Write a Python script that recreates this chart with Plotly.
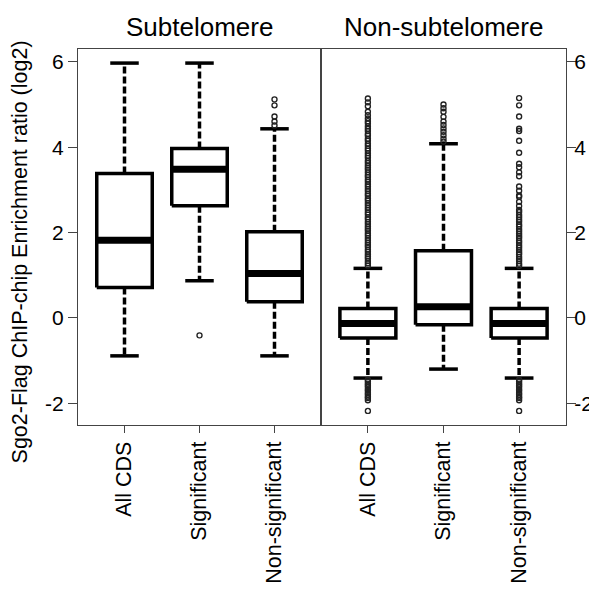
import plotly.graph_objects as go
from plotly.subplots import make_subplots

# ---------------- data ----------------
categories = ["All CDS", "Significant", "Non-significant"]
panel_titles = ["Subtelomere", "Non-subtelomere"]

sub_lower = [-0.89, 0.87, -0.89]
sub_q1 = [0.71, 2.63, 0.38]
sub_median = [1.82, 3.48, 1.04]
sub_q3 = [3.38, 3.97, 2.02]
sub_upper = [5.97, 5.97, 4.43]
sub_outliers = [
    [],
    [-0.41],
    [5.12, 4.98, 4.72, 4.60, 4.51],
]

non_lower = [-1.41, -1.20, -1.41]
non_q1 = [-0.47, -0.16, -0.47]
non_median = [-0.13, 0.26, -0.13]
non_q3 = [0.22, 1.57, 0.22]
non_upper = [1.16, 4.08, 1.16]
non_outliers = [
    [5.14, 5.05, 4.96, 4.83, 4.75, 4.67, 4.61, 4.56, 4.49, 4.43, 4.38, 4.31, 4.27,
     4.2, 4.15, 4.08, 4.03, 3.97, 3.92, 3.86, 3.8, 3.75, 3.68, 3.63, 3.57, 3.52,
     3.47, 3.41, 3.35, 3.3, 3.24, 3.19, 3.13, 3.08, 3.02, 2.97, 2.91, 2.86, 2.8,
     2.75, 2.69, 2.64, 2.58, 2.53, 2.47, 2.42, 2.36, 2.31, 2.25, 2.2, 2.14, 2.09,
     2.04, 1.98, 1.93, 1.87, 1.82, 1.76, 1.71, 1.66, 1.6, 1.55, 1.49, 1.44, 1.39,
     1.33, 1.28, 1.23,
     -1.45, -1.49, -1.54, -1.58, -1.62, -1.67, -1.71, -1.76, -1.8, -1.85, -1.88,
     -1.93, -2.18],
    [5.0, 4.91, 4.83, 4.71, 4.6, 4.52, 4.44, 4.36, 4.28, 4.2, 4.13],
    [5.15, 4.98, 4.72, 4.43, 4.38, 4.15, 3.87, 3.61, 3.53, 3.41, 3.32, 3.08, 2.98,
     2.87, 2.84, 2.72, 2.62, 2.53, 2.48, 2.41, 2.36, 2.3, 2.25, 2.19, 2.14, 2.08,
     2.03, 1.97, 1.92, 1.87, 1.81, 1.76, 1.7, 1.65, 1.59, 1.54, 1.49, 1.43, 1.38,
     1.33, 1.27, 1.22,
     -1.45, -1.49, -1.54, -1.58, -1.62, -1.67, -1.71, -1.76, -1.8, -1.85, -1.88,
     -1.93, -2.18],
]

y_ticks = [-2, 0, 2, 4, 6]
y_tick_labels = ["-2", "0", "2", "4", "6"]
y_title = "Sgo2-Flag ChIP-chip Enrichment ratio (log2)"

# ---------------- figure ----------------
FONT = "Liberation Sans, Arial, sans-serif"
BOX_HALF = 0.37
CAP_HALF = 0.19
LW = 3.5

fig = make_subplots(rows=1, cols=2, horizontal_spacing=0)

panels = [
    (sub_lower, sub_q1, sub_median, sub_q3, sub_upper, sub_outliers),
    (non_lower, non_q1, non_median, non_q3, non_upper, non_outliers),
]

for col, (lo, q1, med, q3, up, outs) in enumerate(panels, start=1):
    bx, by, mx, my, wx, wy, cx, cy, ox, oy = [], [], [], [], [], [], [], [], [], []
    for i in range(len(categories)):
        pos = i + 1
        bx += [pos - BOX_HALF, pos + BOX_HALF, pos + BOX_HALF, pos - BOX_HALF, pos - BOX_HALF, None]
        by += [q1[i], q1[i], q3[i], q3[i], q1[i], None]
        mx += [pos - BOX_HALF, pos + BOX_HALF, None]
        my += [med[i], med[i], None]
        wx += [pos, pos, None, pos, pos, None]
        wy += [q3[i], up[i], None, q1[i], lo[i], None]
        cx += [pos - CAP_HALF, pos + CAP_HALF, None, pos - CAP_HALF, pos + CAP_HALF, None]
        cy += [up[i], up[i], None, lo[i], lo[i], None]
        ox += [pos] * len(outs[i])
        oy += outs[i]
    fig.add_trace(go.Scatter(x=wx, y=wy, mode="lines",
                             line=dict(color="black", width=LW, dash="7px,3px"),
                             showlegend=False, hoverinfo="skip"), row=1, col=col)
    fig.add_trace(go.Scatter(x=cx, y=cy, mode="lines",
                             line=dict(color="black", width=LW),
                             showlegend=False, hoverinfo="skip"), row=1, col=col)
    fig.add_trace(go.Scatter(x=ox, y=oy, mode="markers",
                             marker=dict(symbol="circle-open", size=5, color="#222",
                                         line=dict(width=1.4, color="#222")),
                             showlegend=False, hoverinfo="skip"), row=1, col=col)
    fig.add_trace(go.Scatter(x=bx, y=by, mode="lines", fill="none",
                             line=dict(color="black", width=LW),
                             showlegend=False, hoverinfo="skip"), row=1, col=col)
    fig.add_trace(go.Scatter(x=mx, y=my, mode="lines",
                             line=dict(color="black", width=7),
                             showlegend=False, hoverinfo="skip"), row=1, col=col)

split = 243.0 / 488.0
axis_common = dict(showline=True, mirror=True, linecolor="#444", linewidth=1,
                   ticks="outside", tickcolor="#444", tickwidth=1,
                   showgrid=False, zeroline=False, automargin=False)

fig.update_xaxes(range=[0.38, 3.62], tickvals=[1, 2, 3], ticktext=categories,
                 tickangle=-90, ticklen=7,
                 tickfont=dict(family=FONT, size=21.5, color="black"), **axis_common)
fig.update_layout(
    xaxis=dict(domain=[0, split]),
    xaxis2=dict(domain=[split, 1]),
)
fig.update_yaxes(range=[-2.51, 6.3], tickvals=y_ticks, ticktext=y_tick_labels,
                 ticklen=9,
                 tickfont=dict(family=FONT, size=21, color="black"), **axis_common)
fig.update_layout(yaxis2=dict(side="right", showticklabels=True, matches="y",
                              ticklabelstandoff=-6))

annotations = [
    dict(text=panel_titles[0], x=split / 2, y=1.0585, xref="paper", yref="paper",
         showarrow=False, xanchor="center", yanchor="middle",
         font=dict(family=FONT, size=26, color="black")),
    dict(text=panel_titles[1], x=(split + 1) / 2, y=1.0585, xref="paper", yref="paper",
         showarrow=False, xanchor="center", yanchor="middle",
         font=dict(family=FONT, size=26, color="black")),
    dict(text=y_title, x=-0.118, y=0.46, xref="paper", yref="paper", textangle=-90,
         showarrow=False, xanchor="center", yanchor="middle",
         font=dict(family=FONT, size=21.5, color="black")),
]

# page body has an 8px default margin; the figure is sized to fit inside it
fig.update_layout(
    width=589, height=582,
    margin=dict(l=70, r=31, t=41, b=165),
    paper_bgcolor="white", plot_bgcolor="white",
    annotations=annotations,
    font=dict(family=FONT, color="black"),
)

fig.write_html("out.html")
